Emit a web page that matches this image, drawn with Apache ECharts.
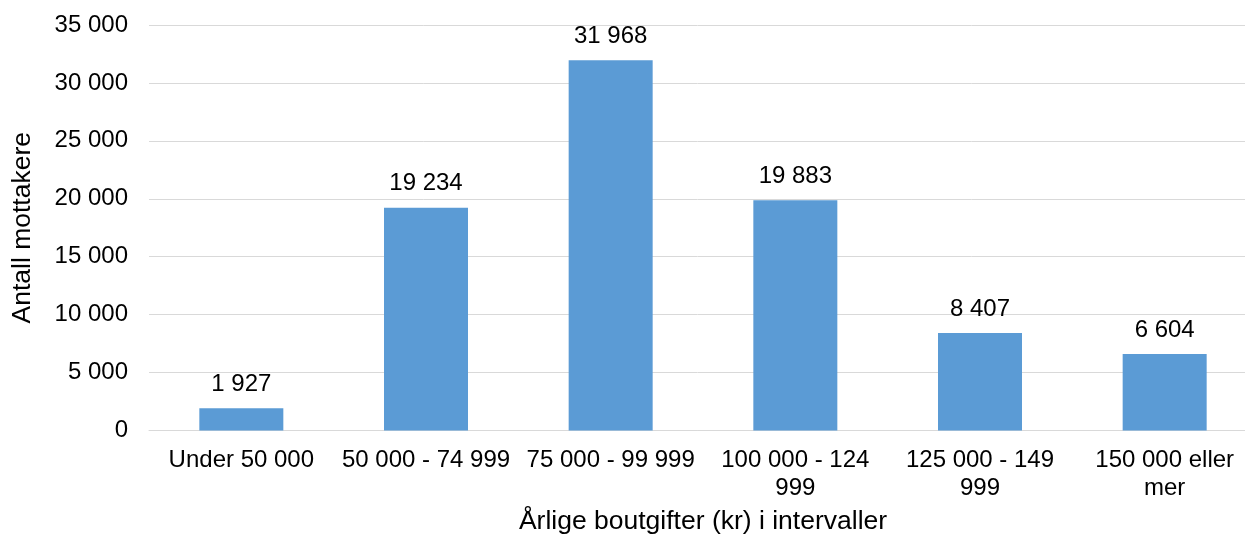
<!DOCTYPE html>
<html>
<head>
<meta charset="utf-8">
<script src="https://cdn.jsdelivr.net/npm/echarts@6/dist/echarts.min.js"></script>
<style>
    html, body { margin: 0; padding: 0; background: #fff; }
    #chart { width: 1245px; height: 536px; }
</style>
</head>
<body>
<div id="chart"></div>
<script>
// boutgift-intervaller og antall mottakere
var categories = ['Under 50 000', '50 000 - 74 999', '75 000 - 99 999', '100 000 - 124\n999', '125 000 - 149\n999', '150 000 eller\nmer'];
var mottakere = [1927, 19234, 31968, 19883, 8407, 6604];
var yTicks = [0, 5000, 10000, 15000, 20000, 25000, 30000, 35000];

// tusenskille med mellomrom
function fmt(v) {
    return String(v).replace(/\B(?=(\d{3})+(?!\d))/g, ' ');
}

var chart = echarts.init(document.getElementById('chart'));
var font = 'Liberation Sans, Arial, sans-serif';

var option = {
    animation: false,
    grid: {
        left: 149,
        right: -12,
        top: 25,
        bottom: 105.5,
        outerBoundsMode: 'none'
    },
    xAxis: {
        type: 'category',
        data: categories,
        name: 'Årlige boutgifter (kr) i intervaller',
        nameLocation: 'middle',
        nameGap: 78,
        nameTextStyle: { color: '#000', fontSize: 26.5, fontFamily: font },
        axisLine: { lineStyle: { color: '#d9d9d9', width: 1 } },
        axisTick: { show: false },
        axisLabel: {
            color: '#000',
            fontSize: 24,
            fontFamily: font,
            lineHeight: 28,
            margin: 16,
            interval: 0
        }
    },
    yAxis: {
        type: 'value',
        min: yTicks[0],
        max: yTicks[yTicks.length - 1],
        interval: 5000,
        name: 'Antall mottakere',
        nameLocation: 'middle',
        nameGap: 113,
        nameTextStyle: { color: '#000', fontSize: 26.5, fontFamily: font },
        axisLine: { show: false },
        axisTick: { show: false },
        splitLine: { lineStyle: { color: '#d9d9d9', width: 1 } },
        axisLabel: {
            color: '#000',
            fontSize: 24,
            fontFamily: font,
            margin: 21,
            formatter: function (v) { return fmt(v); }
        }
    },
    series: [
        {
            type: 'bar',
            data: mottakere,
            barWidth: 84,
            itemStyle: { color: '#5b9bd5' },
            label: {
                show: true,
                position: 'top',
                distance: 12,
                color: '#000',
                fontSize: 24,
                fontFamily: font,
                formatter: function (p) { return fmt(p.value); }
            }
        }
    ]
};
chart.setOption(option);
</script>
</body>
</html>
